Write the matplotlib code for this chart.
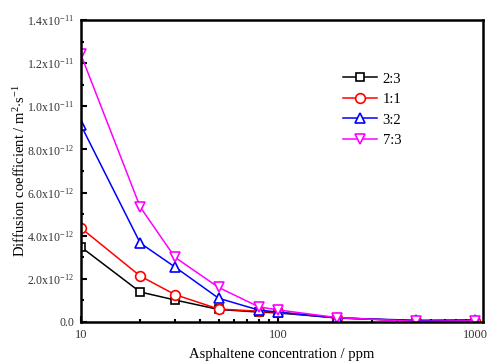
import matplotlib
matplotlib.use("Agg")
import matplotlib.pyplot as plt
import numpy as np
from matplotlib.ticker import FuncFormatter, MultipleLocator, LogLocator, NullFormatter

plt.rcParams['font.family'] = ['Liberation Serif', 'DejaVu Serif']
plt.rcParams['mathtext.fontset'] = 'custom'
plt.rcParams['mathtext.rm'] = 'Liberation Serif'
plt.rcParams['mathtext.it'] = 'Liberation Serif:italic'

# asphaltene concentration (ppm)
conc = [10, 20, 30, 50, 80, 100, 200, 500, 1000]

# diffusion coefficient (m2/s) for each ratio
d_2_3 = [3.48e-12, 1.39e-12, 1.02e-12, 0.58e-12, 0.46e-12, 0.42e-12, 0.19e-12, 0.05e-12, 0.05e-12]
d_1_1 = [4.36e-12, 2.13e-12, 1.27e-12, 0.60e-12, 0.50e-12, 0.45e-12, 0.20e-12, 0.05e-12, 0.05e-12]
d_3_2 = [9.13e-12, 3.66e-12, 2.55e-12, 1.10e-12, 0.55e-12, 0.46e-12, 0.18e-12, 0.08e-12, 0.10e-12]
d_7_3 = [12.4e-12, 5.33e-12, 3.00e-12, 1.60e-12, 0.70e-12, 0.56e-12, 0.20e-12, 0.03e-12, 0.05e-12]

labels = ['2:3', '1:1', '3:2', '7:3']
colors = ['black', 'red', 'blue', 'magenta']
markers = ['s', 'o', '^', 'v']

fig = plt.figure(figsize=(4.87, 3.63), dpi=100)
ax = fig.add_axes([0.166, 0.113, 0.826, 0.832])

for d, lab, c, m in zip([d_2_3, d_1_1, d_3_2, d_7_3], labels, colors, markers):
    ms = 6 if m in ('s',) else 7
    ax.plot(conc, d, color=c, marker=m, markersize=ms, markerfacecolor='white',
            markeredgecolor=c, markeredgewidth=1.2, linewidth=1.1, label=lab)

ax.set_xscale('log')
ax.set_xlim(10, 1097)
ax.set_ylim(0, 1.4e-11)

ax.yaxis.set_major_locator(MultipleLocator(2e-12))
ax.yaxis.set_minor_locator(MultipleLocator(1e-12))
ax.xaxis.set_major_locator(LogLocator(base=10))
ax.xaxis.set_minor_locator(LogLocator(base=10, subs=np.arange(2, 10)))
ax.xaxis.set_minor_formatter(NullFormatter())
ax.xaxis.set_major_formatter(FuncFormatter(lambda v, p: "%d" % round(v)))


def sci_fmt(v, pos):
    if abs(v) < 1e-20:
        return "0.0"
    e = int(np.floor(np.log10(abs(v)) + 1e-9))
    m = v / 10 ** e
    return "%.1fx10$^{%d}$" % (m, e)


ax.yaxis.set_major_formatter(FuncFormatter(sci_fmt))

for s in ax.spines.values():
    s.set_linewidth(1.8)
ax.tick_params(which='both', direction='in', top=False, right=False,
               labelsize=8.5, labelcolor='#333333', width=1.5)
ax.tick_params(which='major', length=4, pad=5)
ax.tick_params(axis='x', labelsize=9)
ax.tick_params(which='minor', length=2.5)

ax.set_xlabel("Asphaltene concentration / ppm", fontsize=10.5, labelpad=5)
ax.set_ylabel("Diffusion coefficient / m$^{2}$$\\cdot$s$^{-1}$", fontsize=10.5, labelpad=-1)

ax.legend(loc='upper left', bbox_to_anchor=(0.62, 0.87), frameon=False,
          fontsize=10.5, handlelength=2.3, handletextpad=0.4, labelspacing=0.5)

fig.savefig("out.png", dpi=100)
